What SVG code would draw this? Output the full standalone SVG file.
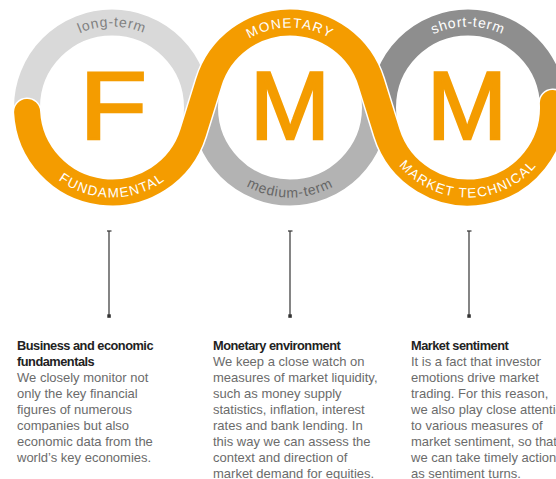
<svg xmlns="http://www.w3.org/2000/svg" width="556" height="479" viewBox="0 0 556 479">
<style>
.ring{fill:none;stroke-width:26}
.big{font-family:"Liberation Sans",Arial,sans-serif;font-size:96px;fill:#f49c00;stroke:#f49c00;stroke-width:2.4;text-anchor:middle}
.arc{font-family:"Liberation Sans",Arial,sans-serif;font-size:13.5px;text-anchor:middle}
.cap{letter-spacing:1.3px}
.low{letter-spacing:0.8px;font-size:14px}
.ttl{font-family:"Liberation Sans",Arial,sans-serif;font-size:12.8px;font-weight:bold;fill:#222;letter-spacing:-0.5px}
.body{font-family:"Liberation Sans",Arial,sans-serif;font-size:13px;fill:#6b6b6b}
.conn line{stroke:#333;stroke-width:1.2}
.conn rect{fill:#333}
</style>
<defs>
<path id="t1" d="M31,107.5 A81,81 0 0 1 193,107.5"/>
<path id="t2" d="M210,107.5 A80,80 0 0 1 370,107.5"/>
<path id="t3" d="M387,107.5 A81,81 0 0 1 549,107.5"/>
<path id="b1" d="M22,107.5 A90,90 0 0 0 202,107.5"/>
<path id="b2" d="M200,107.5 A90,90 0 0 0 380,107.5"/>
<path id="b3" d="M378,107.5 A90,90 0 0 0 558,107.5"/>
<path id="snake" d="M27.12,111.95 A85,85 0 0 0 193.18,132.71 L208.82,82.29 A85,85 0 0 1 371.18,82.29 L386.82,132.71 A85,85 0 0 0 552.88,103.05" fill="none"/>
</defs>
<rect width="556" height="479" fill="#fff"/>
<g id="rings">
<circle class="ring" cx="112" cy="107.5" r="85" stroke="#d9d9d9"/>
<circle class="ring" cx="290" cy="107.5" r="85" stroke="#b3b3b3"/>
<circle class="ring" cx="468" cy="107.5" r="85" stroke="#8e8e8e"/>
<use href="#snake" stroke="#fff" stroke-width="29" stroke-linecap="round"/>
<use href="#snake" stroke="#f49c00" stroke-width="26" stroke-linecap="round"/>
</g>
<g id="node-f">
<text class="big" x="113.5" y="139" transform="translate(115 0) scale(1.15 1) translate(-115 0)">F</text>
<text class="arc low" fill="#808080"><textPath href="#t1" startOffset="50%">long-term</textPath></text>
<text class="arc cap" fill="#fff"><textPath href="#b1" startOffset="50%">FUNDAMENTAL</textPath></text>
</g>
<g id="node-m1">
<text class="big" x="290" y="139">M</text>
<text class="arc cap" fill="#fff"><textPath href="#t2" startOffset="50%">MONETARY</textPath></text>
<text class="arc low" fill="#666"><textPath href="#b2" startOffset="50%">medium-term</textPath></text>
</g>
<g id="node-m2">
<text class="big" x="467" y="139">M</text>
<text class="arc low" fill="#fff"><textPath href="#t3" startOffset="50%">short-term</textPath></text>
<text class="arc cap" fill="#fff"><textPath href="#b3" startOffset="50%">MARKET TECHNICAL</textPath></text>
</g>
<g id="connectors" class="conn">
<line x1="109" y1="231" x2="109" y2="316"/><line x1="107" y1="231" x2="111.5" y2="231"/><rect x="107.3" y="314.3" width="3.5" height="3.5"/>
<line x1="290" y1="231" x2="290" y2="316"/><line x1="288" y1="231" x2="292.5" y2="231"/><rect x="288.3" y="314.3" width="3.5" height="3.5"/>
<line x1="469" y1="231" x2="469" y2="316"/><line x1="467" y1="231" x2="471.5" y2="231"/><rect x="467.3" y="314.3" width="3.5" height="3.5"/>
</g>
<g id="text-1">
<text class="ttl" x="17" y="349.5">Business and economic<tspan x="17" dy="16">fundamentals</tspan></text>
<text class="body" x="17" y="381.5">We closely monitor not<tspan x="17" dy="16">only the key financial</tspan><tspan x="17" dy="16">figures of numerous</tspan><tspan x="17" dy="16">companies but also</tspan><tspan x="17" dy="16">economic data from the</tspan><tspan x="17" dy="16">world’s key economies.</tspan></text>
</g>
<g id="text-2">
<text class="ttl" x="213" y="349.5">Monetary environment</text>
<text class="body" x="213" y="365.5">We keep a close watch on<tspan x="213" dy="16">measures of market liquidity,</tspan><tspan x="213" dy="16">such as money supply</tspan><tspan x="213" dy="16">statistics, inflation, interest</tspan><tspan x="213" dy="16">rates and bank lending. In</tspan><tspan x="213" dy="16">this way we can assess the</tspan><tspan x="213" dy="16">context and direction of</tspan><tspan x="213" dy="16">market demand for equities.</tspan></text>
</g>
<g id="text-3">
<text class="ttl" x="411" y="349.5">Market sentiment</text>
<text class="body" x="411" y="365.5">It is a fact that investor<tspan x="411" dy="16">emotions drive market</tspan><tspan x="411" dy="16">trading. For this reason,</tspan><tspan x="411" dy="16">we also play close attention</tspan><tspan x="411" dy="16">to various measures of</tspan><tspan x="411" dy="16">market sentiment, so that</tspan><tspan x="411" dy="16">we can take timely action</tspan><tspan x="411" dy="16">as sentiment turns.</tspan></text>
</g>
</svg>
